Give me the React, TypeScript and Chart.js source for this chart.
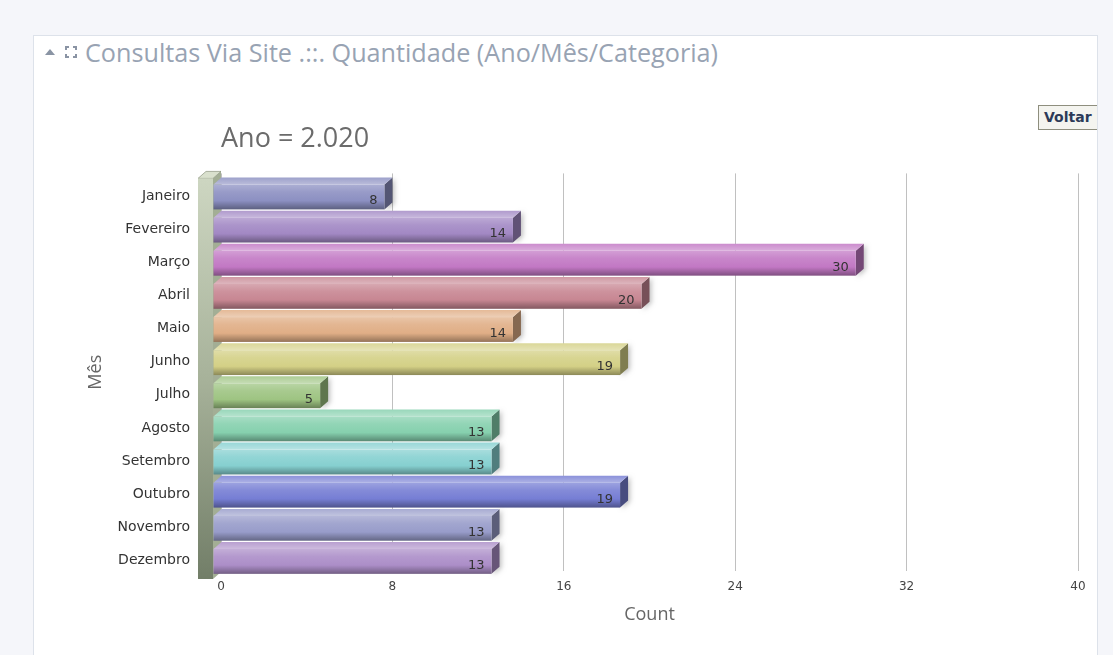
import React, { useEffect, useRef } from "react";
import { Chart, registerables } from "chart.js";

Chart.register(...registerables);

const months = [
  "Janeiro", "Fevereiro", "Março", "Abril", "Maio", "Junho",
  "Julho", "Agosto", "Setembro", "Outubro", "Novembro", "Dezembro",
];
const counts = [8, 14, 30, 20, 14, 19, 5, 13, 13, 19, 13, 13];
const xTicks = [0, 8, 16, 24, 32, 40];
const barColors = [
  "#8c90c2", "#a288c4", "#c278c4", "#c78692", "#e0ae86", "#d4d086",
  "#9ec482", "#86d0ae", "#86d0d0", "#767ed4", "#989cca", "#ac8ec8",
];

const DX = 8;
const DY = 7;

function hexToRgb(h: string) {
  const n = parseInt(h.slice(1), 16);
  return [(n >> 16) & 255, (n >> 8) & 255, n & 255];
}
function mix(h: string, target: number, amt: number) {
  const [r, g, b] = hexToRgb(h);
  const f = (c: number) => Math.round(c + (target - c) * amt);
  return `rgb(${f(r)},${f(g)},${f(b)})`;
}
const lighten = (h: string, a: number) => mix(h, 255, a);
const darken = (h: string, a: number) => mix(h, 0, a);

const bars3d = {
  id: "bars3d",
  afterDatasetsDraw(chart: any) {
    const ctx = chart.ctx as CanvasRenderingContext2D;
    const ca = chart.chartArea;
    const wx0 = ca.left - 15, wx1 = ca.left, wy0 = ca.top - 2, wy1 = ca.bottom + 1;
    ctx.save();
    ctx.fillStyle = "#a3ae95";
    ctx.beginPath();
    ctx.moveTo(wx1 - DX, wy0 + DY);
    ctx.lineTo(wx1, wy0);
    ctx.lineTo(wx1, wy1);
    ctx.lineTo(wx1 - DX, wy1 + DY);
    ctx.closePath();
    ctx.fill();
    ctx.fillStyle = "#d9e0cd";
    ctx.beginPath();
    ctx.moveTo(wx0 - DX, wy0 + DY);
    ctx.lineTo(wx1 - DX, wy0 + DY);
    ctx.lineTo(wx1, wy0);
    ctx.lineTo(wx0, wy0);
    ctx.closePath();
    ctx.fill();
    ctx.strokeStyle = "rgba(120,130,105,0.6)";
    ctx.lineWidth = 1;
    ctx.stroke();
    const wg = ctx.createLinearGradient(0, wy0 + DY, 0, wy1 + DY);
    wg.addColorStop(0, "#cdd6c1");
    wg.addColorStop(0.5, "#a7b29a");
    wg.addColorStop(1, "#727e68");
    ctx.fillStyle = wg;
    ctx.fillRect(wx0 - DX, wy0 + DY, wx1 - wx0, wy1 - wy0);

    const meta = chart.getDatasetMeta(0);
    meta.data.forEach((el: any, i: number) => {
      const c = barColors[i % barColors.length];
      const x0 = el.base, x1 = el.x;
      const y0 = el.y - el.height / 2, y1 = el.y + el.height / 2;
      const fx0 = x0 - DX, fx1 = x1 - DX, fy0 = y0 + DY, fy1 = y1 + DY;
      ctx.save();
      ctx.shadowColor = "rgba(0,0,0,0.25)";
      ctx.shadowBlur = 5;
      ctx.shadowOffsetX = 2;
      ctx.shadowOffsetY = 1;
      ctx.fillStyle = darken(c, 0.4);
      ctx.beginPath();
      ctx.moveTo(fx1, fy0);
      ctx.lineTo(x1, y0);
      ctx.lineTo(x1, y1);
      ctx.lineTo(fx1, fy1);
      ctx.closePath();
      ctx.fill();
      ctx.restore();
      const tg = ctx.createLinearGradient(0, y0, 0, fy0);
      tg.addColorStop(0, lighten(c, 0.15));
      tg.addColorStop(1, lighten(c, 0.4));
      ctx.fillStyle = tg;
      ctx.beginPath();
      ctx.moveTo(fx0, fy0);
      ctx.lineTo(fx1, fy0);
      ctx.lineTo(x1, y0);
      ctx.lineTo(x0, y0);
      ctx.closePath();
      ctx.fill();
      const g = ctx.createLinearGradient(0, fy0, 0, fy1);
      g.addColorStop(0, lighten(c, 0.28));
      g.addColorStop(0.3, lighten(c, 0.1));
      g.addColorStop(0.65, c);
      g.addColorStop(1, darken(c, 0.34));
      ctx.fillStyle = g;
      ctx.fillRect(fx0, fy0, fx1 - fx0, fy1 - fy0);
      ctx.fillStyle = "#333333";
      ctx.font = "13px 'DejaVu Sans'";
      ctx.textAlign = "right";
      ctx.textBaseline = "middle";
      ctx.fillText(String(counts[i]), fx1 - 7, (fy0 + fy1) / 2 + 4);
    });
    ctx.restore();
  },
};

export default function App() {
  const ref = useRef<HTMLCanvasElement>(null);
  useEffect(() => {
    const canvas = ref.current!;
    const chart = new Chart(canvas, {
      type: "bar",
      data: {
        labels: months,
        datasets: [
          {
            data: counts,
            backgroundColor: "rgba(0,0,0,0)",
            borderWidth: 0,
            barPercentage: 0.75,
            categoryPercentage: 1,
          },
        ],
      },
      options: {
        indexAxis: "y",
        responsive: false,
        animation: false,
        events: [],
        layout: { padding: { left: 52, right: 19, top: 23, bottom: 29 } },
        plugins: {
          legend: { display: false },
          tooltip: { enabled: false },
          title: {
            display: true,
            text: "Ano = 2.020",
            align: "start",
            fullSize: false,
            color: "#6b6b6b",
            font: { family: "'Open Sans'", size: 27, weight: "normal" },
            padding: { top: 0, bottom: 18 },
          },
        },
        scales: {
          x: {
            min: 0,
            max: 40,
            afterBuildTicks: (s: any) => {
              s.ticks = xTicks.map((v) => ({ value: v }));
            },
            ticks: {
              color: "#444444",
              font: { family: "'DejaVu Sans'", size: 12 },
              padding: 9,
            },
            grid: { color: "#c0c0c0", drawTicks: false, lineWidth: 1 },
            border: { display: false },
            title: {
              display: true,
              text: "Count",
              color: "#666666",
              font: { family: "'Open Sans'", size: 18 },
              padding: { top: 1, bottom: 0 },
            },
          },
          y: {
            afterFit: (s: any) => {
              s.width = 136;
            },
            ticks: {
              color: "#333333",
              font: { family: "'DejaVu Sans'", size: 14 },
              padding: 31,
              labelOffset: 6,
            },
            grid: { display: false, drawTicks: false },
            border: { display: false },
            title: {
              display: true,
              text: "Mês",
              color: "#666666",
              font: { family: "'Open Sans'", size: 18 },
              padding: 0,
            },
          },
        },
      },
      plugins: [bars3d],
    } as any);
    return () => chart.destroy();
  }, []);

  return (
    <div
      style={{
        position: "fixed",
        left: 0,
        top: 0,
        width: 1113,
        height: 655,
        overflow: "hidden",
        background: "#f5f6fa",
        fontFamily: "'Open Sans', sans-serif",
      }}
    >
      <div
        style={{
          position: "absolute",
          left: 33,
          top: 35,
          width: 1063,
          height: 640,
          background: "#ffffff",
          border: "1px solid #dde2ea",
          overflow: "hidden",
        }}
      >
        <svg
          width={12}
          height={10}
          style={{ position: "absolute", left: 10, top: 11 }}
        >
          <polygon points="1,8 6,2 11,8" fill="#8a94a4" />
        </svg>
        <svg
          width={12}
          height={12}
          style={{ position: "absolute", left: 31, top: 10 }}
        >
          <g stroke="#8a94a4" strokeWidth={2} fill="none">
            <polyline points="1,4 1,1 4,1" />
            <polyline points="8,1 11,1 11,4" />
            <polyline points="11,8 11,11 8,11" />
            <polyline points="4,11 1,11 1,8" />
          </g>
        </svg>
        <div
          style={{
            position: "absolute",
            left: 51,
            top: -1,
            fontSize: 25.2,
            color: "#98a3b3",
            whiteSpace: "nowrap",
          }}
        >
          Consultas Via Site .::. Quantidade (Ano/Mês/Categoria)
        </div>
        <div
          style={{
            position: "absolute",
            left: 1004,
            top: 69,
            width: 70,
            height: 25,
            border: "1px solid #8e8e7e",
            background: "#f4f4ef",
            fontFamily: "'DejaVu Sans', sans-serif",
            fontWeight: "bold",
            fontSize: 14,
            color: "#2c3a58",
            lineHeight: "23px",
            paddingLeft: 5,
            boxSizing: "border-box",
            whiteSpace: "nowrap",
          }}
        >
          Voltar
        </div>
        <canvas
          ref={ref}
          width={1064}
          height={555}
          style={{ position: "absolute", left: -1, top: 64, width: 1064, height: 555 }}
        />
      </div>
    </div>
  );
}
